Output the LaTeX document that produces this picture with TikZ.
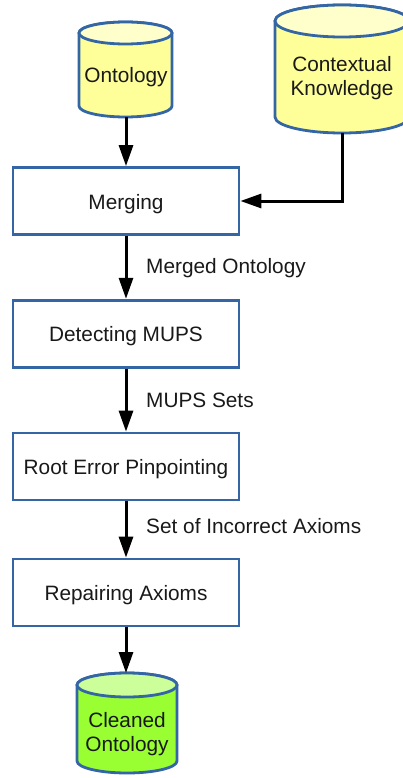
\documentclass[tikz,border=0pt]{standalone}
\usepackage{fontspec}
\setmainfont{Liberation Sans}
\usetikzlibrary{arrows.meta}
\definecolor{edgeblue}{HTML}{3465A4}
\definecolor{dbyellow}{HTML}{FFFF99}
\definecolor{dbyellowtop}{HTML}{FFFFCC}
\definecolor{dbgreen}{HTML}{99FF33}
\definecolor{dbgreentop}{HTML}{CCFF99}
% database drum: cx, top-ellipse cy, bottom-ellipse cy, rx, ry, body fill, lid fill
\newcommand\drum[7]{%
  \filldraw[drumline, fill=#6] (#1-#4,#2) -- (#1-#4,#3)
    arc[start angle=180, end angle=360, x radius=#4, y radius=#5]
    -- (#1+#4,#2)
    arc[start angle=0, end angle=180, x radius=#4, y radius=#5] -- cycle;
  \filldraw[drumline, fill=#7] (#1,#2) ellipse[x radius=#4, y radius=#5];}
\begin{document}
\begin{tikzpicture}[x=1pt, y=1pt,
  every node/.style={font=\fontsize{20.8}{24}\selectfont, text=black!90},
  drumline/.style={draw=edgeblue, line width=2.8pt},
  stepbox/.style={draw=edgeblue, line width=2.8pt, fill=white,
    minimum width=226pt, minimum height=67pt, inner sep=0pt,
    text height=20pt, text depth=4pt},
  dbtext/.style={align=center, inner sep=0pt},
  flow/.style={draw=black, line width=3pt,
    -{Triangle[length=21pt, width=14pt]}},
  edgelabel/.style={anchor=west, inner sep=0pt}]
\useasboundingbox (0,0) rectangle (403,-778);

% data stores
\drum{125.5}{-33}{-106}{46.5}{11}{dbyellow}{dbyellowtop}
\node[dbtext] (onto) at (126,-77) {Ontology};
\coordinate (onto-b) at (126,-117);

\drum{342}{-21}{-117}{67}{16}{dbyellow}{dbyellowtop}
\node[dbtext] (ctx) at (342,-78.5) {Contextual\\Knowledge};
\coordinate (ctx-b) at (342,-133);

\drum{127}{-685}{-761}{50}{12}{dbgreen}{dbgreentop}
\node[dbtext] (clean) at (127,-734) {Cleaned\\Ontology};
\coordinate (clean-t) at (126,-673);

% processing steps
\node[stepbox] (merge)  at (126,-201)   {Merging};
\node[stepbox] (mups)   at (126,-333.7) {Detecting MUPS};
\node[stepbox] (root)   at (126,-466.5) {Root Error Pinpointing};
\node[stepbox] (repair) at (126,-592.5) {Repairing Axioms};

% flow
\draw[flow] (onto-b) -- (merge.north);
\draw[flow] (ctx-b) |- (merge.east);
\draw[flow] (merge.south) -- (mups.north);
\draw[flow] (mups.south) -- (root.north);
\draw[flow] (root.south) -- (repair.north);
\draw[flow] (repair.south) -- (clean-t);

% edge labels
\node[edgelabel] (l1) at (146,-268) {Merged Ontology};
\node[edgelabel] (l2) at (146,-400) {MUPS Sets};
\node[edgelabel] (l3) at (146,-526) {Set of Incorrect Axioms};
\end{tikzpicture}
\end{document}
